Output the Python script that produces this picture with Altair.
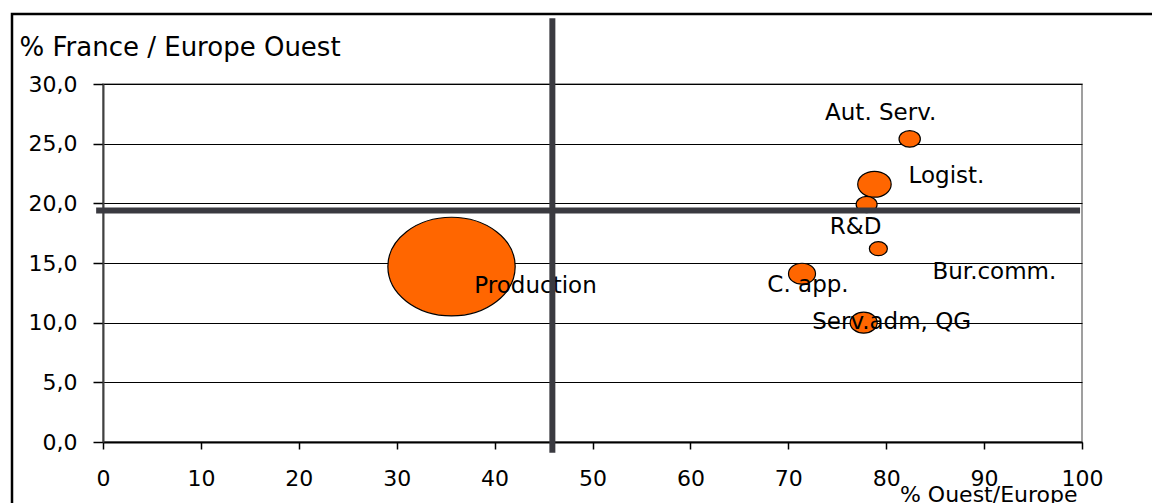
import altair as alt
import pandas as pd

# Activity groups: share located in Western Europe (x), share of Western Europe located in France (y),
# and relative weight of each group (bubble area).
sectors = ["Production", "Aut. Serv.", "Logist.", "R&D", "Bur.comm.", "C. app.", "Serv.adm, QG"]
pct_ouest_europe = [35.6, 82.4, 78.8, 78.0, 79.2, 71.4, 77.7]
pct_france_ouest = [14.7, 25.4, 21.6, 19.9, 16.2, 14.1, 10.0]
weight = [100.0, 2.8, 6.9, 2.7, 2.0, 4.5, 4.5]

# Average lines splitting the plane into quadrants, with their drawn extents
avg_ouest_europe = 45.9
avg_france_ouest = 19.4
vline_span = (-0.9, 35.5)
hline_span = (-0.7, 99.8)

x_ticks = list(range(0, 101, 10))
y_ticks = [0, 5, 10, 15, 20, 25, 30]

FONT = "DejaVu Sans"
ORANGE = "#FF6600"
LINE_GREY = "#3A3A40"

df = pd.DataFrame({
    "secteur": sectors,
    "ouest": pct_ouest_europe,
    "france": pct_france_ouest,
    "poids": weight,
})

x_scale = alt.Scale(domain=[0, 100], nice=False, zero=False)
y_scale = alt.Scale(domain=[0, 30], nice=False, zero=False)

x_axis = alt.Axis(
    values=x_ticks, format="d", grid=False, labelFlush=False, labelOverlap=False,
    domainColor="black", domainWidth=2, tickColor="black", tickWidth=1.5, tickSize=7,
    labelFont=FONT, labelFontSize=22, labelColor="black", labelPadding=19,
    title="% Ouest/Europe", titleFont=FONT, titleFontSize=22, titleFontWeight="normal",
    titleColor="black", titleX=974, titleY=59, titleAlign="right", titleBaseline="alphabetic",
)
y_axis = alt.Axis(
    values=y_ticks, labelExpr="replace(format(datum.value, '.1f'), '.', ',')",
    grid=True, gridColor="black", gridWidth=1, labelOverlap=False,
    domainColor="#404040", domainWidth=2, tickColor="black", tickWidth=1.5, tickSize=10,
    labelFont=FONT, labelFontSize=22, labelColor="black", labelPadding=16,
    title="% France / Europe Ouest", titleFont=FONT, titleFontSize=26, titleFontWeight="normal",
    titleColor="black", titleAngle=0, titleX=-84, titleY=-29, titleAlign="left",
    titleBaseline="alphabetic",
)

# Slightly wide ellipse used as bubble symbol
ellipse = "M-1.29,0A1.29,1,0,1,1,1.29,0A1.29,1,0,1,1,-1.29,0Z"

base = alt.Chart(df)

bubbles = base.mark_point(
    shape=ellipse, filled=True, fill=ORANGE, fillOpacity=1, stroke="black",
    strokeWidth=1.2, opacity=1,
).encode(
    x=alt.X("ouest:Q", scale=x_scale, axis=x_axis),
    y=alt.Y("france:Q", scale=y_scale, axis=y_axis),
    size=alt.Size("poids:Q", scale=alt.Scale(type="linear", domain=[0, 100], range=[0, 9742]),
                  legend=None),
)

# Label placement around each bubble (pixels)
label_offsets = {
    "Production": (84, 26),
    "Aut. Serv.": (-29, -19),
    "Logist.": (72, -1),
    "R&D": (-11, 29),
    "Bur.comm.": (116, 30),
    "C. app.": (6, 18),
    "Serv.adm, QG": (28, 6),
}

labels = [
    base.transform_filter(alt.datum.secteur == name).mark_text(
        font=FONT, fontSize=23, color="black", align="center", baseline="alphabetic",
        dx=dx, dy=dy,
    ).encode(
        x=alt.X("ouest:Q", scale=x_scale),
        y=alt.Y("france:Q", scale=y_scale),
        text="secteur:N",
    )
    for name, (dx, dy) in label_offsets.items()
]

vline = alt.Chart(pd.DataFrame({
    "x": [avg_ouest_europe], "y0": [vline_span[0]], "y1": [vline_span[1]],
})).mark_rule(color=LINE_GREY, strokeWidth=6).encode(
    x=alt.X("x:Q", scale=x_scale),
    y=alt.Y("y0:Q", scale=y_scale),
    y2="y1:Q",
)

hline = alt.Chart(pd.DataFrame({
    "y": [avg_france_ouest], "x0": [hline_span[0]], "x1": [hline_span[1]],
})).mark_rule(color=LINE_GREY, strokeWidth=6).encode(
    y=alt.Y("y:Q", scale=y_scale),
    x=alt.X("x0:Q", scale=x_scale),
    x2="x1:Q",
)

# Outer frame around the whole figure
frame = alt.Chart(pd.DataFrame({"k": [0]})).mark_rect(
    fillOpacity=0, stroke="black", strokeWidth=2.5,
).encode(
    x=alt.value(-91), x2=alt.value(1200), y=alt.value(-70), y2=alt.value(600),
)

chart = alt.layer(frame, bubbles, *labels, hline, vline).properties(
    width=979, height=358,
    autosize=alt.AutoSizeParams(type="none"),
    padding={"left": 103, "top": 84, "right": 70, "bottom": 61},
    background="white",
).configure_view(
    stroke="#808080", strokeWidth=1.5,
)

chart.save("out.html", embed_options={"renderer": "svg", "actions": False})
